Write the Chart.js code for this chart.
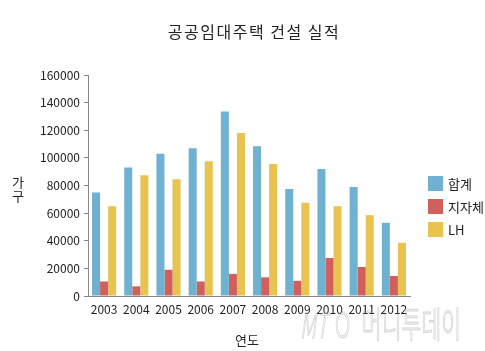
<!DOCTYPE html>
<html>
<head>
<meta charset="utf-8">
<script src="https://cdn.jsdelivr.net/npm/chart.js@4"></script>
<style>
  html, body { margin: 0; padding: 0; background: #fff; }
  #wrap { width: 485px; height: 351px; position: relative; }
</style>
</head>
<body>
<div id="wrap"><canvas id="chart" width="485" height="351"></canvas></div>
<script>
// Data
const years = ['2003', '2004', '2005', '2006', '2007', '2008', '2009', '2010', '2011', '2012'];
const totalUnits = [75000, 93000, 103000, 107000, 133500, 108500, 77500, 92000, 79000, 53000];
const localGovUnits = [10500, 7000, 19000, 10500, 16000, 13500, 11000, 27500, 21000, 14500];
const lhUnits = [65000, 87500, 84500, 97500, 118000, 95500, 67500, 65000, 58500, 38500];
const seriesNames = ['합계', '지자체', 'LH'];

const chartTitle = '공공임대주택 건설 실적';
const yTitle = ['가', '구'];
const xTitle = '연도';

const FONT = "'Noto Sans CJK KR', 'Noto Sans', sans-serif";
const colors = ['#70b1d2', '#cf605c', '#e9c350'];

// draws title, axis labels, legend and watermark
const decor = {
    id: 'decor',
    afterDraw(chart) {
        const c = chart.ctx;
        c.save();
        c.fillStyle = '#222';
        c.textAlign = 'center';
        c.textBaseline = 'middle';

        c.font = `16px ${FONT}`;
        c.letterSpacing = '1.5px';
        c.fillText(chartTitle, 254, 32);
        c.letterSpacing = '0px';

        c.font = `13px ${FONT}`;
        c.fillText(xTitle, 247, 340);
        yTitle.forEach((ch, i) => c.fillText(ch, 18, 182 + i * 14));

        // legend
        c.textAlign = 'left';
        chart.data.datasets.forEach((ds, i) => {
            const y = 183 + i * 23;
            c.fillStyle = ds.backgroundColor;
            c.fillRect(428, y - 7, 15, 15);
            c.fillStyle = '#222';
            c.fillText(ds.label, 448, y + 1);
        });

        // watermark (condensed outline text)
        c.globalAlpha = 0.45;
        c.strokeStyle = '#999';
        c.lineWidth = 1;
        c.translate(300, 338);
        c.scale(0.6, 1);
        c.textBaseline = 'alphabetic';
        c.font = `italic 300 34px ${FONT}`;
        c.strokeText('MT', 0, 0);
        c.font = `300 36px ${FONT}`;
        c.strokeText('O', 58, 0);
        c.strokeText('머니투데이', 103, 0);
        c.restore();
    }
};

const ctx = document.getElementById('chart').getContext('2d');
new Chart(ctx, {
    type: 'bar',
    data: {
        labels: years,
        datasets: [totalUnits, localGovUnits, lhUnits].map((vals, i) => ({
            label: seriesNames[i],
            data: vals,
            backgroundColor: colors[i],
            borderWidth: 0,
            barPercentage: 1.0,
            categoryPercentage: 0.75
        }))
    },
    options: {
        responsive: false,
        animation: false,
        layout: { padding: { top: 75, right: 75, bottom: 25, left: 0 } },
        plugins: {
            legend: { display: false },
            title: { display: false },
            tooltip: { enabled: false }
        },
        scales: {
            x: {
                afterFit(scale) { scale.height = 30; },
                grid: { display: false, drawTicks: false },
                border: { color: '#888', width: 1 },
                ticks: { color: '#222', font: { family: FONT, size: 12 }, padding: 6, maxRotation: 0, autoSkip: false }
            },
            y: {
                min: 0,
                max: 160000,
                afterFit(scale) { scale.width = 88; },
                grid: { drawOnChartArea: false, tickLength: 4, color: '#888' },
                border: { color: '#888', width: 1 },
                ticks: {
                    stepSize: 20000, color: '#222', font: { family: FONT, size: 12 }, padding: 4,
                    callback: v => String(v)
                }
            }
        }
    },
    plugins: [decor]
});
</script>
</body>
</html>
